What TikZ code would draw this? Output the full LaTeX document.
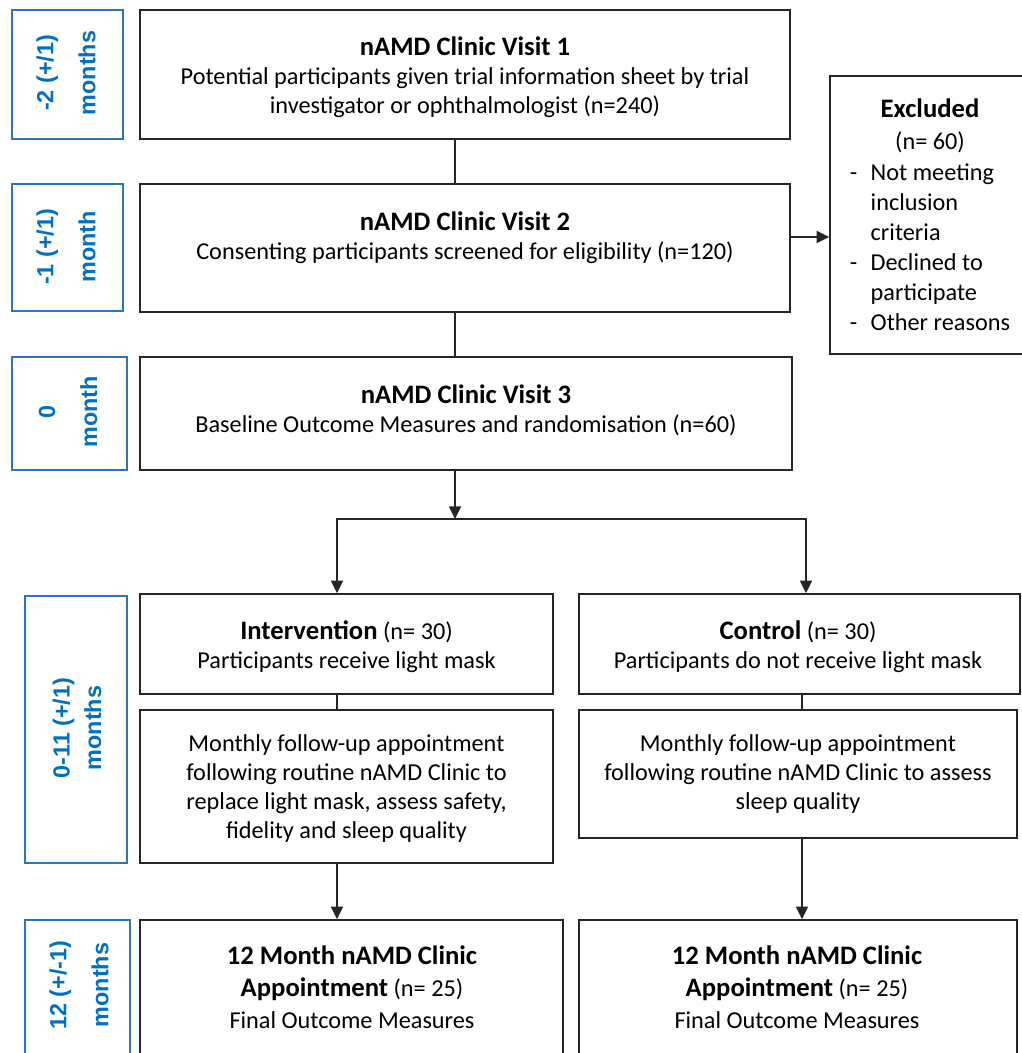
\documentclass[tikz,border=0pt]{standalone}
\usepackage{fontspec}
\setmainfont{Carlito}
\newfontfamily\labelfont{Liberation Sans}
\usetikzlibrary{arrows.meta}
\definecolor{lblblue}{HTML}{0070C0}
\definecolor{lblframe}{HTML}{2E75B6}
\definecolor{boxline}{HTML}{262626}
\newcommand{\bt}[1]{{\fontsize{20}{21.75}\selectfont\bfseries #1}}
\begin{document}
\begin{tikzpicture}[x=0.75pt,y=-0.75pt,
  box/.style={draw=boxline, line width=1.1pt, inner sep=0pt},
  lblbox/.style={draw=lblframe, line width=1.1pt, inner sep=0pt},
  txt/.style={align=center, inner sep=0pt, font=\fontsize{18.2}{21.75}\selectfont},
  lbltxt/.style={align=center, inner sep=0pt, rotate=90, text=lblblue,
     font=\labelfont\bfseries\fontsize{17.5}{#1}\selectfont},
  conn/.style={draw=boxline, line width=1.1pt},
  arr/.style={conn, -{Triangle[length=9.5pt,width=9pt]}}
]
\path[use as bounding box, fill=white] (0,0) rectangle (1021,1053);

% main boxes
\node[box, minimum width=487.5pt, minimum height=96.75pt] (v1) at (465,74.5) {};
\node[box, minimum width=487.5pt, minimum height=96pt] (v2) at (465,248) {};
\node[box, minimum width=489pt, minimum height=84.75pt] (v3) at (466,413.5) {};
\node[box, minimum width=150pt, minimum height=208.5pt] (excl) at (930,215) {};
\node[box, minimum width=309.75pt, minimum height=75pt] (int) at (346.5,644) {};
\node[box, minimum width=309.75pt, minimum height=114.75pt] (intm) at (346.5,786.5) {};
\node[box, minimum width=330.75pt, minimum height=75pt] (ctrl) at (799.5,644) {};
\node[box, minimum width=328.5pt, minimum height=96pt] (ctrlm) at (798,774) {};
\node[box, minimum width=317.25pt, minimum height=112.5pt] (inte) at (351.5,995) {};
\node[box, minimum width=328.5pt, minimum height=112.5pt] (ctrle) at (798,995) {};

% label boxes
\node[lblbox, minimum width=83.25pt, minimum height=96.75pt] (l1) at (67.5,74.5) {};
\node[lblbox, minimum width=83.25pt, minimum height=95.25pt] (l2) at (67.5,247.5) {};
\node[lblbox, minimum width=86.25pt, minimum height=84.75pt] (l3) at (69.5,413.5) {};
\node[lblbox, minimum width=76.5pt, minimum height=200.25pt] (l4) at (76,729.5) {};
\node[lblbox, minimum width=78.75pt, minimum height=112.5pt] (l5) at (77.5,995) {};

\node[lbltxt=31.5] (l1t) at (66,73) {-2 (+/1)\\months};
\node[lbltxt=31.5] (l2t) at (66,247) {-1 (+/1)\\month};
\node[lbltxt=31.5] (l3t) at (68,412) {0\\month};
\node[lbltxt=23.5] (l4t) at (77,728) {0-11 (+/1)\\months};
\node[lbltxt=31.5] (l5t) at (79,985) {12 (+/-1)\\months};

% texts
\node[txt] (v1t) at (465,77.5) {\bt{nAMD Clinic Visit 1}\\Potential participants given trial information sheet by trial\\investigator or ophthalmologist (n=240)};
\node[txt] (v2t) at (465,237.5) {\bt{nAMD Clinic Visit 2}\\Consenting participants screened for eligibility (n=120)};
\node[txt] (v3t) at (466,410.5) {\bt{nAMD Clinic Visit 3}\\Baseline Outcome Measures and randomisation (n=60)};
\node[inner sep=0pt, font=\fontsize{18.2}{21.75}\selectfont] (exclt) at (930,218) {\renewcommand{\arraystretch}{1.04}%
\begin{tabular}{@{}l@{\hspace{10pt}}l@{}}
\multicolumn{2}{c}{\bt{Excluded}}\\[2pt]
\multicolumn{2}{c}{(n= 60)}\\
-&Not meeting\\
&inclusion\\
&criteria\\
-&Declined to\\
&participate\\
-&Other reasons
\end{tabular}};
\node[txt] (intt) at (346.5,646.5) {\bt{Intervention} (n= 30)\\Participants receive light mask};
\node[txt] (intmt) at (346.5,789) {Monthly follow-up appointment\\following routine nAMD Clinic to\\replace light mask, assess safety,\\fidelity and sleep quality};
\node[txt] (ctrlt) at (798,646.5) {\bt{Control} (n= 30)\\Participants do not receive light mask};
\node[txt] (ctrlmt) at (798,774.5) {Monthly follow-up appointment\\following routine nAMD Clinic to assess\\sleep quality};
\node[txt, font=\fontsize{18.2}{24}\selectfont] (intet) at (352,987) {\bt{12 Month nAMD Clinic}\\\bt{Appointment} (n= 25)\\Final Outcome Measures};
\node[txt, font=\fontsize{18.2}{24}\selectfont] (ctrlet) at (797,987) {\bt{12 Month nAMD Clinic}\\\bt{Appointment} (n= 25)\\Final Outcome Measures};

% connectors
\coordinate (jx) at (455,0);
\coordinate (ey) at (0,237);
\coordinate (split) at (455,519);
\coordinate (lx) at (337,0);
\coordinate (rx) at (806,0);
\coordinate (rx2) at (802,0);
\draw[conn] (v1.south -| jx) -- (v2.north -| jx);
\draw[conn] (v2.south -| jx) -- (v3.north -| jx);
\draw[arr] (v2.east |- ey) -- (excl.west |- ey);
\draw[arr] (v3.south -| jx) -- (split);
\draw[arr] (split) -| (int.north -| lx);
\draw[arr] (split) -| (ctrl.north -| rx);
\draw[conn] (int.south -| lx) -- (intm.north -| lx);
\draw[conn] (ctrl.south -| rx2) -- (ctrlm.north -| rx2);
\draw[arr] (intm.south -| lx) -- (inte.north -| lx);
\draw[arr] (ctrlm.south -| rx2) -- (ctrle.north -| rx2);
\end{tikzpicture}
\end{document}
